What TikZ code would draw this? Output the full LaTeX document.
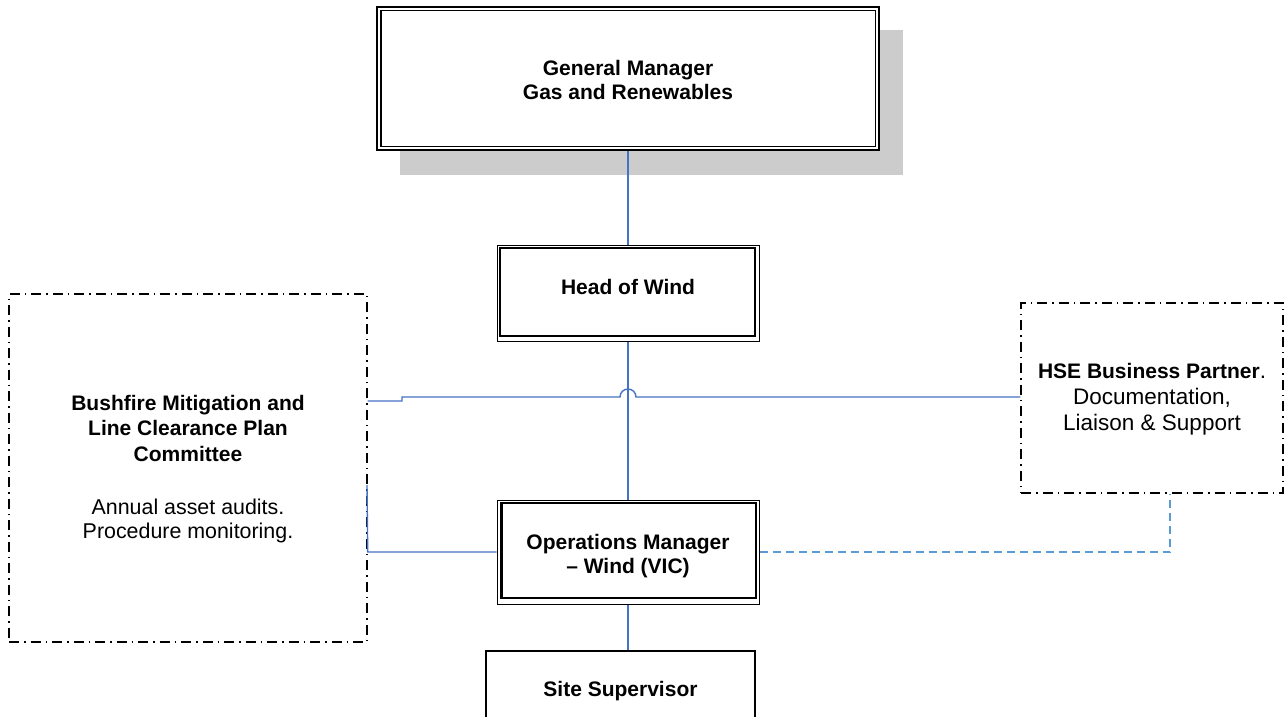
\documentclass[tikz,border=0pt]{standalone}
\usepackage{fontspec}
\setmainfont{Liberation Sans}
\definecolor{lineblue}{HTML}{4472C4}
\definecolor{dashblue}{HTML}{5B9BD5}
\begin{document}
\begin{tikzpicture}[x=1pt,y=-1pt,
 conn/.style={draw=lineblue,line width=1.4pt},
 dconn/.style={draw=dashblue,line width=1.4pt,dash pattern=on 8pt off 5pt},
 bf/.style={font=\fontsize{21}{24}\selectfont\bfseries},
 dotbox/.style={draw,line width=1.4pt,dash pattern=on 10pt off 5pt on 1.5pt off 5pt,inner sep=0pt,align=center},
 dbox/.style={draw,line width=1pt,inner sep=0pt,align=center,bf},
 inbox/.style={line width=2.5pt},
 label/.style={inner sep=0pt,align=center,bf}
]
\useasboundingbox (0,0) rectangle (1288,717);
% shadow
\fill[black!20] (400,30) rectangle (903,175);
% General manager
\node[draw,line width=1.5pt,fill=white,minimum width=502pt,minimum height=143pt,inner sep=0pt,align=center,bf] (gm) at (628,78.5) {};
\draw[line width=1.5pt] ([xshift=4.5pt,yshift=-4.5pt]gm.north west) rectangle ([xshift=-4.5pt,yshift=4.5pt]gm.south east);
\node[label] (gmt) at (628,80) {General Manager\\Gas and Renewables};
% Head of wind
\node[dbox,minimum width=262pt,minimum height=96pt] (how) at (628,293) {};
\draw[inbox] ([xshift=3.5pt,yshift=-3.5pt]how.north west) rectangle ([xshift=-4.5pt,yshift=5.5pt]how.south east);
\node[label] (howt) at (628,287) {Head of Wind};
% Operations manager
\node[dbox,minimum width=262pt,minimum height=104pt] (ops) at (628,552) {};
\draw[inbox] ([xshift=5pt,yshift=-3.5pt]ops.north west) rectangle ([xshift=-3.5pt,yshift=6.5pt]ops.south east);
\node[label] (opst) at (628,556) {Operations Manager\\– Wind (VIC)};
% Site supervisor
\node[draw,line width=1.5pt,minimum width=269pt,minimum height=80pt,inner sep=0pt,bf] (site) at (620.5,691) {Site Supervisor};
% Bushfire committee
\node[dotbox,minimum width=358pt,minimum height=348pt] (bush) at (188,468) {};
\node[label,font=\fontsize{21}{25.5}\selectfont] (busht) at (188,469)
 {\textbf{Bushfire Mitigation and}\\\textbf{Line Clearance Plan}\\\textbf{Committee}\\[27.5pt]{\fontsize{21.4}{24}\selectfont Annual asset audits.}\\[-1.5pt]{\fontsize{21.4}{24}\selectfont Procedure monitoring.}};
% HSE
\node[dotbox,minimum width=262pt,minimum height=190pt] (hse) at (1152,398) {};
\node[label,font=\fontsize{22.5}{26}\selectfont] (hset) at (1152,399)
 {{\fontsize{21}{26}\selectfont\bfseries HSE Business Partner}.\\Documentation,\\Liaison \& Support};
% connectors
\coordinate (j1) at (402,401);
\coordinate (j2) at (402,397);
\coordinate (hl) at (620,397);
\coordinate (j3) at (367,485);
\coordinate (j4) at (1170,552);
\draw[conn] (gm.south) -- (how.north);
\draw[conn] (how.south) -- (ops.north);
\draw[conn] (j1 -| bush.east) -- (j1) -- (j2) -- (hl) arc[start angle=180,end angle=0,radius=8pt] -- (hse.west |- hl);
\draw[conn] (ops.west) -- (ops.west -| bush.east) -- (j3);
\draw[dconn] (ops.east) -- (j4) -- (j4 |- hse.south);
\draw[conn] (ops.south) -- (ops.south |- site.north);
\end{tikzpicture}
\end{document}
